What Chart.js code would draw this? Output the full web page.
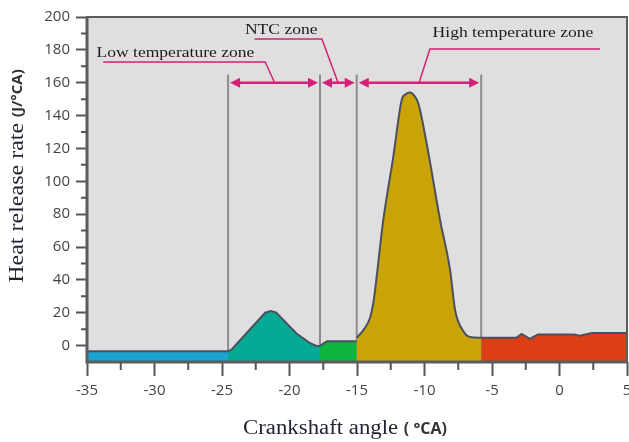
<!DOCTYPE html>
<html>
<head>
<meta charset="utf-8">
<script src="https://cdn.jsdelivr.net/npm/chart.js@4.4.0/dist/chart.umd.min.js"></script>
<style>
  html, body { margin: 0; padding: 0; background: #fff; }
  #wrap { width: 629px; height: 442px; }
</style>
</head>
<body>
<div id="wrap"><canvas id="hrrChart" width="629" height="442"></canvas></div>
<script>
// Heat release rate vs crankshaft angle, split into combustion zones

const xTicks = [-35, -30, -25, -20, -15, -10, -5, 0, 5];
const yTicks = [0, 20, 40, 60, 80, 100, 120, 140, 160, 180, 200];
const xMinor = [-32.5, -27.5, -22.5, -17.5, -12.5, -7.5, -2.5, 2.5];
const yMinor = [10, 30, 50, 70, 90, 110, 130, 150, 170, 190];
const yMin = -10;

// curve pieces, one per zone (angle in °CA, HRR in J/°CA)
const preAngle = [-35, -24.55];
const preHrr = [-3.5, -3.5];
const lowAngle = [-24.55, -24.3, -21.8, -21.4, -21.0, -19.5, -18.5, -18.0, -17.74];
const lowHrr = [-3.5, -2.5, 20.0, 21.0, 20.2, 7.5, 1.6, -0.2, -0.3];
const ntcAngle = [-17.74, -17.4, -17.2, -15.02];
const ntcHrr = [-0.3, 1.8, 2.6, 2.6];
const highAngle = [-15.02, -14.5, -14.04, -13.79, -13.05, -12.31, -11.69, -11.4, -11.07,
                   -10.75, -10.46, -9.84, -8.85, -8.11, -7.74, -7.12, -6.63, -5.8];
const highHrr = [4.7, 9.7, 16.8, 26, 76.6, 115, 149.5, 153, 154,
                 152, 147.5, 123, 76.6, 46.2, 21.9, 8.7, 5.2, 4.7];
const postAngle = [-5.8, -3.2, -2.8, -2.2, -1.6, 1.1, 1.5, 2.4, 5];
const postHrr = [4.7, 4.7, 7.1, 4.1, 6.7, 6.7, 6.0, 7.7, 7.7];

// zone boundaries and labels
const zoneNames = ['Low temperature zone', 'NTC zone', 'High temperature zone'];
const zoneEdges = [-24.55, -17.74, -15.02, -5.8];
const arrowLevel = 160;
const edgeTop = 165;

const SERIF = "'Liberation Serif', 'Times New Roman', serif";
const SANS = "'Open Sans', 'DejaVu Sans', sans-serif";
const PINK = '#d4217a';

function piece(angles, hrr, color, smooth) {
    return {
        data: angles.map((a, i) => ({ x: a, y: hrr[i] })),
        borderColor: '#4a5060',
        borderWidth: 2,
        backgroundColor: color,
        fill: 'start',
        pointRadius: 0,
        tension: 0,
        cubicInterpolationMode: smooth ? 'monotone' : 'default',
        order: 1
    };
}

const edgeLines = zoneEdges.map(e => ({
    data: [{ x: e, y: yMin }, { x: e, y: edgeTop }],
    borderColor: '#8d8d8d',
    borderWidth: 2,
    pointRadius: 0,
    fill: false,
    order: 5
}));

// leader lines for the zone labels, in axis units
const zoneLabels = [
    { text: zoneNames[0], at: [-34.3, 178], leader: [[-33.8, 172.6], [-21.8, 172.6], [-21.1, arrowLevel]] },
    { text: zoneNames[1], at: [-23.3, 192], leader: [[-22.6, 186.6], [-17.6, 186.6], [-16.4, arrowLevel]] },
    { text: zoneNames[2], at: [-9.4, 190.3], leader: [[3.0, 180.5], [-9.6, 180.5], [-10.4, arrowLevel]] }
];

function stretchText(ctx, text, x, y, sx) {
    ctx.save();
    ctx.translate(x, y);
    ctx.scale(sx, 1);
    ctx.fillText(text, 0, 0);
    ctx.restore();
}

function arrowHead(ctx, tipX, y, dir) {
    ctx.beginPath();
    ctx.moveTo(tipX, y);
    ctx.lineTo(tipX - dir * 10, y - 5);
    ctx.lineTo(tipX - dir * 10, y + 5);
    ctx.closePath();
    ctx.fill();
}

const plotDecor = {
    id: 'plotDecor',
    beforeDatasetsDraw(chart) {
        const { ctx, chartArea: a } = chart;
        ctx.save();
        ctx.fillStyle = '#dfdfdf';
        ctx.fillRect(a.left, a.top, a.right - a.left, a.bottom - a.top);
        ctx.restore();
    },
    afterDatasetsDraw(chart) {
        const { ctx, chartArea: a } = chart;
        const xs = chart.scales.x, ys = chart.scales.y;

        // frame
        ctx.save();
        ctx.strokeStyle = '#5c5c5c';
        ctx.lineWidth = 2;
        ctx.strokeRect(a.left, a.top, a.right - a.left, a.bottom - a.top);
        ctx.lineWidth = 3;
        ctx.beginPath();
        ctx.moveTo(a.left, a.top);
        ctx.lineTo(a.left, a.bottom);
        ctx.lineTo(a.right, a.bottom);
        ctx.stroke();

        // minor ticks
        ctx.lineWidth = 2;
        ctx.strokeStyle = '#555';
        ctx.beginPath();
        xMinor.forEach(v => {
            const px = xs.getPixelForValue(v);
            ctx.moveTo(px, a.bottom);
            ctx.lineTo(px, a.bottom + 8);
        });
        yMinor.forEach(v => {
            const py = ys.getPixelForValue(v);
            ctx.moveTo(a.left, py);
            ctx.lineTo(a.left - 6, py);
        });
        ctx.stroke();

        // zone arrows
        const ay = ys.getPixelForValue(arrowLevel);
        ctx.strokeStyle = PINK;
        ctx.fillStyle = PINK;
        ctx.lineWidth = 2.5;
        for (let i = 0; i < zoneEdges.length - 1; i++) {
            const l = xs.getPixelForValue(zoneEdges[i]) + 2;
            const r = xs.getPixelForValue(zoneEdges[i + 1]) - 2;
            ctx.beginPath();
            ctx.moveTo(l + 4, ay);
            ctx.lineTo(r - 4, ay);
            ctx.stroke();
            arrowHead(ctx, l, ay, -1);
            arrowHead(ctx, r, ay, 1);
        }

        // labels with leader lines
        ctx.lineWidth = 1.5;
        zoneLabels.forEach(z => {
            ctx.beginPath();
            z.leader.forEach((p, k) => {
                const px = xs.getPixelForValue(p[0]), py = ys.getPixelForValue(p[1]);
                if (k === 0) ctx.moveTo(px, py); else ctx.lineTo(px, py);
            });
            ctx.stroke();
        });
        ctx.fillStyle = '#1b1b22';
        ctx.font = '15px ' + SERIF;
        ctx.textBaseline = 'middle';
        ctx.textAlign = 'left';
        zoneLabels.forEach(z => {
            stretchText(ctx, z.text, xs.getPixelForValue(z.at[0]), ys.getPixelForValue(z.at[1]), 1.17);
        });
        ctx.restore();
    },
    afterDraw(chart) {
        const { ctx, chartArea: a } = chart;
        ctx.save();
        ctx.textBaseline = 'middle';
        ctx.textAlign = 'left';

        // x axis title
        const xPart1 = 'Crankshaft angle ';
        const xPart2 = '( °CA)';
        ctx.font = '20px ' + SERIF;
        const w1 = ctx.measureText(xPart1).width * 1.14;
        ctx.font = 'bold 16px ' + SANS;
        const w2 = ctx.measureText(xPart2).width;
        const cx = (a.left + a.right) / 2 - 12;
        let x0 = cx - (w1 + w2) / 2;
        ctx.font = '20px ' + SERIF;
        ctx.fillStyle = '#1f2233';
        stretchText(ctx, xPart1, x0, 429, 1.14);
        ctx.font = 'bold 16px ' + SANS;
        ctx.fillStyle = '#333';
        ctx.fillText(xPart2, x0 + w1, 429);

        // y axis title
        const yPart1 = 'Heat release rate ';
        const yPart2 = '(J/°CA)';
        ctx.font = '20px ' + SERIF;
        const h1 = ctx.measureText(yPart1).width * 1.2;
        ctx.font = 'bold 15px ' + SANS;
        const h2 = ctx.measureText(yPart2).width;
        ctx.translate(18, 176);
        ctx.rotate(-Math.PI / 2);
        const y0 = -(h1 + h2) / 2;
        ctx.font = '20px ' + SERIF;
        ctx.fillStyle = '#1f2233';
        stretchText(ctx, yPart1, y0, 0, 1.2);
        ctx.font = 'bold 15px ' + SANS;
        ctx.fillStyle = '#333';
        ctx.fillText(yPart2, y0 + h1, 0);
        ctx.restore();
    }
};

const chart = new Chart(document.getElementById('hrrChart'), {
    type: 'line',
    data: {
        datasets: [
            piece(preAngle, preHrr, '#1ba3d3'),
            piece(lowAngle, lowHrr, '#06a994'),
            piece(ntcAngle, ntcHrr, '#0cb53b'),
            piece(highAngle, highHrr, '#caa304', true),
            piece(postAngle, postHrr, '#dc3f16'),
            ...edgeLines
        ]
    },
    options: {
        responsive: false,
        animation: false,
        layout: { padding: { top: 17, right: 2, left: 0, bottom: 0 } },
        plugins: {
            legend: { display: false },
            tooltip: { enabled: false }
        },
        scales: {
            x: {
                type: 'linear',
                min: -35,
                max: 5,
                afterBuildTicks: s => { s.ticks = xTicks.map(v => ({ value: v })); },
                afterFit: s => { s.height = 80; s.paddingLeft = 0; s.paddingRight = 0; },
                border: { display: false },
                grid: { drawOnChartArea: false, tickLength: 14, tickColor: '#555', tickWidth: 2 },
                ticks: { font: { family: SANS, size: 15 }, color: '#444', padding: 6, maxRotation: 0 }
            },
            y: {
                min: yMin,
                max: 200,
                afterBuildTicks: s => { s.ticks = yTicks.map(v => ({ value: v })); },
                afterFit: s => { s.width = 87; s.paddingTop = 0; s.paddingBottom = 0; },
                border: { display: false },
                grid: { drawOnChartArea: false, tickLength: 11, tickColor: '#555', tickWidth: 2 },
                ticks: { font: { family: SANS, size: 15 }, color: '#444', padding: 6 }
            }
        }
    },
    plugins: [plotDecor]
});
</script>
</body>
</html>
